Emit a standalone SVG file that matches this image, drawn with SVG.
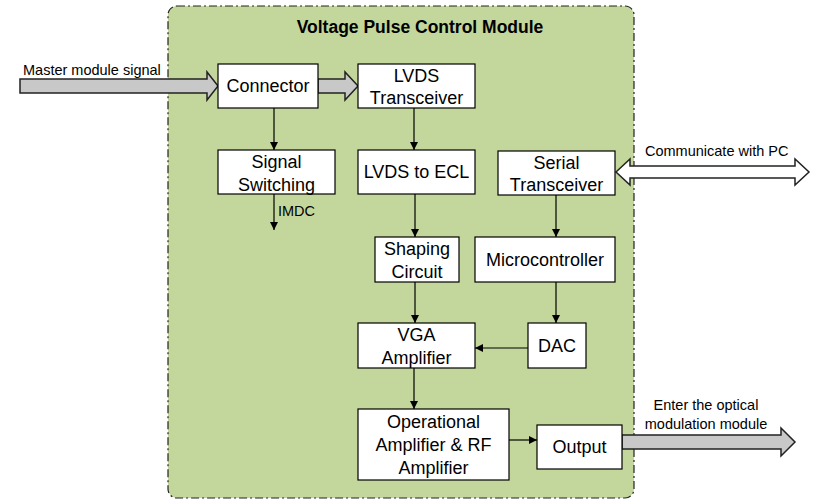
<svg xmlns="http://www.w3.org/2000/svg" width="815" height="500" viewBox="0 0 815 500">
<defs>
<style>
.box{fill:#fff;stroke:#000;stroke-width:1.2}
.t{font-family:"Liberation Sans",Arial,sans-serif;font-size:18px;fill:#000;text-anchor:middle}
.s{font-family:"Liberation Sans",Arial,sans-serif;font-size:14.5px;fill:#000}
.c{stroke:#000;stroke-width:1.2;fill:none}
.big{fill:#c8c8c8;stroke:#222;stroke-width:1.5}
</style>
<marker id="ah" viewBox="0 0 10 10" refX="10" refY="5" markerWidth="8" markerHeight="8" markerUnits="userSpaceOnUse" orient="auto">
<path d="M0,0 L10,5 L0,10 z" fill="#000"/>
</marker>
</defs>
<g id="module">
<rect x="168" y="6" width="466" height="492" rx="9" fill="#c3d69b" stroke="#222" stroke-width="1.2" stroke-dasharray="8 3 2 3"/>
<text x="420" y="33" font-family="Liberation Sans,Arial,sans-serif" font-size="17.5" font-weight="bold" text-anchor="middle">Voltage Pulse Control Module</text>
</g>
<g id="connectors">
<polygon class="big" points="20,79 207,79 207,72 218,86 207,100 207,93 20,93"/>
<polygon class="big" points="318,79 345,79 345,72 358,86 345,100 345,93 318,93"/>
<polygon class="big" points="622,435 781,435 781,428 795,442 781,456 781,449 622,449"/>
<polygon fill="#fff" stroke="#222" stroke-width="1.5" points="616,172 630,159 630,166 795,166 795,159 809,172 795,185 795,178 630,178 630,185"/>
<line class="c" x1="274" y1="108" x2="274" y2="150" marker-end="url(#ah)"/>
<line class="c" x1="274" y1="194" x2="274" y2="230" marker-end="url(#ah)"/>
<line class="c" x1="414" y1="108" x2="414" y2="150" marker-end="url(#ah)"/>
<line class="c" x1="556" y1="195" x2="556" y2="237" marker-end="url(#ah)"/>
<line class="c" x1="415" y1="194" x2="415" y2="237" marker-end="url(#ah)"/>
<line class="c" x1="415" y1="282" x2="415" y2="323" marker-end="url(#ah)"/>
<line class="c" x1="556" y1="282" x2="556" y2="323" marker-end="url(#ah)"/>
<line class="c" x1="528" y1="348" x2="475" y2="348" marker-end="url(#ah)"/>
<line class="c" x1="414" y1="368" x2="414" y2="409" marker-end="url(#ah)"/>
<line class="c" x1="509" y1="440" x2="537" y2="440" marker-end="url(#ah)"/>
<text class="s" x="23" y="75">Master module signal</text>
<text class="s" x="278" y="216" font-size="13">IMDC</text>
<text class="s" x="645" y="156">Communicate with PC</text>
<text class="s" x="706" y="410" text-anchor="middle">Enter the optical</text>
<text class="s" x="706" y="429" text-anchor="middle">modulation module</text>
</g>
<g id="connector-node"><rect class="box" x="218" y="64" width="100" height="44"/><text class="t" x="268" y="92">Connector</text></g>
<g id="lvds-transceiver"><rect class="box" x="358" y="64" width="117" height="44"/><text class="t" x="416.5" y="82">LVDS</text><text class="t" x="416.5" y="104">Transceiver</text></g>
<g id="signal-switching"><rect class="box" x="218" y="150" width="117" height="44"/><text class="t" x="276.5" y="168">Signal</text><text class="t" x="276.5" y="191">Switching</text></g>
<g id="lvds-ecl"><rect class="box" x="358" y="150" width="117" height="44"/><text class="t" x="416.5" y="178">LVDS to ECL</text></g>
<g id="serial-transceiver"><rect class="box" x="498" y="151" width="117" height="44"/><text class="t" x="556.5" y="169">Serial</text><text class="t" x="556.5" y="191">Transceiver</text></g>
<g id="shaping"><rect class="box" x="375" y="237" width="84" height="45"/><text class="t" x="417" y="255">Shaping</text><text class="t" x="417" y="278">Circuit</text></g>
<g id="microcontroller"><rect class="box" x="475" y="237" width="140" height="45"/><text class="t" x="545" y="266">Microcontroller</text></g>
<g id="vga"><rect class="box" x="358" y="323" width="117" height="45"/><text class="t" x="416.5" y="341">VGA</text><text class="t" x="416.5" y="364">Amplifier</text></g>
<g id="dac"><rect class="box" x="528" y="323" width="58" height="45"/><text class="t" x="557" y="352">DAC</text></g>
<g id="opamp"><rect class="box" x="358" y="409" width="151" height="71"/><text class="t" x="433.5" y="428">Operational</text><text class="t" x="433.5" y="451">Amplifier &amp; RF</text><text class="t" x="433.5" y="474">Amplifier</text></g>
<g id="output"><rect class="box" x="537" y="425" width="85" height="44"/><text class="t" x="579.5" y="453">Output</text></g>
</svg>
